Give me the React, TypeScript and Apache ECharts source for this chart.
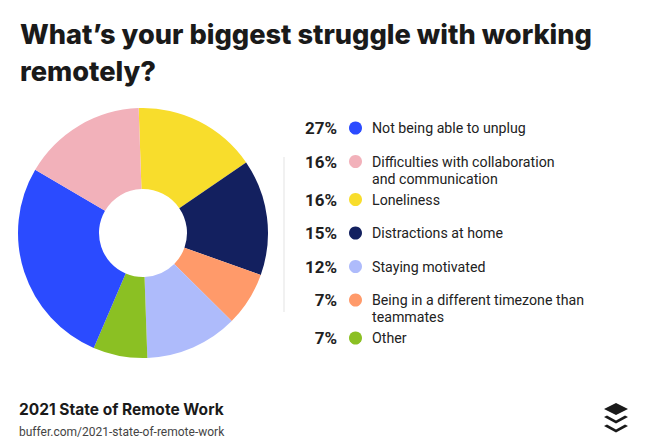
import React, { useEffect, useRef } from "react";
import * as echarts from "echarts";

const titleText = "What’s your biggest struggle with working\nremotely?";
const footerTitle = "2021 State of Remote Work";
const footerUrl = "buffer.com/2021-state-of-remote-work";

const categories = [
  "Not being able to unplug",
  "Difficulties with collaboration\nand communication",
  "Loneliness",
  "Distractions at home",
  "Staying motivated",
  "Being in a different timezone than\nteammates",
  "Other",
];
const values = [27, 16, 16, 15, 12, 7, 7];
const colors = ["#2B4BFF", "#F2B1BA", "#F8DD2C", "#13205F", "#AEBBFB", "#FF9A6A", "#8BC023"];
// clockwise order of slices starting from 12 o'clock
const pieOrder = [2, 3, 5, 4, 6, 0, 1];

const FONT = "Inter, 'Noto Sans', sans-serif";
const BODY = "Roboto, 'Noto Sans', sans-serif";

export default function App() {
  const ref = useRef<HTMLDivElement>(null);
  useEffect(() => {
    if (!ref.current) return;
    const chart = echarts.init(ref.current, undefined, { renderer: "svg" });

    const legendEls: any[] = [];
    let wraps = 0;
    categories.forEach((name, i) => {
      const rowY = 128 + 33.5 * i + 4.5 * wraps;
      legendEls.push({
        type: "text",
        x: 337,
        y: rowY,
        style: {
          text: values[i] + "%",
          fill: "#1f1f1f",
          fontSize: 17,
          fontWeight: 700,
          fontFamily: BODY,
          align: "right",
          verticalAlign: "middle",
        },
      });
      legendEls.push({
        type: "circle",
        shape: { cx: 355.5, cy: rowY, r: 6.5 },
        style: { fill: colors[i] },
      });
      legendEls.push({
        type: "text",
        x: 372,
        y: rowY - 8.5,
        style: {
          text: name,
          fill: "#222",
          fontSize: 14.2,
          fontFamily: BODY,
          lineHeight: 17,
          align: "left",
          verticalAlign: "top",
        },
      });
      wraps += name.split("\n").length - 1;
    });

    const logo = [
      {
        type: "polygon",
        shape: { points: [[604, 409], [616, 403], [628, 409], [616, 415]] },
        style: { fill: "#1a1a1a" },
      },
      {
        type: "polygon",
        shape: { points: [[604, 417], [607, 415.5], [616, 420.5], [625, 415.5], [628, 417], [616, 423.5]] },
        style: { fill: "#1a1a1a" },
      },
      {
        type: "polygon",
        shape: { points: [[604, 426], [607, 424.5], [616, 429.5], [625, 424.5], [628, 426], [616, 432.5]] },
        style: { fill: "#1a1a1a" },
      },
    ];

    chart.setOption({
      animation: false,
      backgroundColor: "#ffffff",
      title: {
        text: titleText,
        left: 20,
        top: 16,
        padding: 0,
        textStyle: {
          fontSize: 27.2,
          fontWeight: 800,
          fontFamily: FONT,
          color: "#1a1a1a",
          lineHeight: 37,
        },
      },
      series: [
        {
          type: "pie",
          center: [143, 233],
          radius: [44, 125],
          startAngle: 92,
          clockwise: true,
          silent: true,
          label: { show: false },
          labelLine: { show: false },
          itemStyle: { borderWidth: 0 },
          data: pieOrder.map((i) => ({
            name: categories[i],
            value: values[i],
            itemStyle: { color: colors[i] },
          })),
        },
      ],
      graphic: [
        {
          type: "line",
          shape: { x1: 284, y1: 157, x2: 284, y2: 312 },
          style: { stroke: "#ececec", lineWidth: 1.5 },
        },
        ...legendEls,
        {
          type: "text",
          x: 19,
          y: 409,
          style: {
            text: footerTitle,
            fill: "#1a1a1a",
            fontSize: 15.5,
            fontWeight: 700,
            fontFamily: FONT,
            verticalAlign: "middle",
          },
        },
        {
          type: "text",
          x: 19,
          y: 432,
          style: {
            text: footerUrl,
            fill: "#444",
            fontSize: 12,
            fontFamily: BODY,
            verticalAlign: "middle",
          },
        },
        ...logo,
      ],
    });
    return () => chart.dispose();
  }, []);
  return (
    <div
      ref={ref}
      style={{ position: "fixed", left: 0, top: 0, width: 650, height: 444 }}
    />
  );
}
